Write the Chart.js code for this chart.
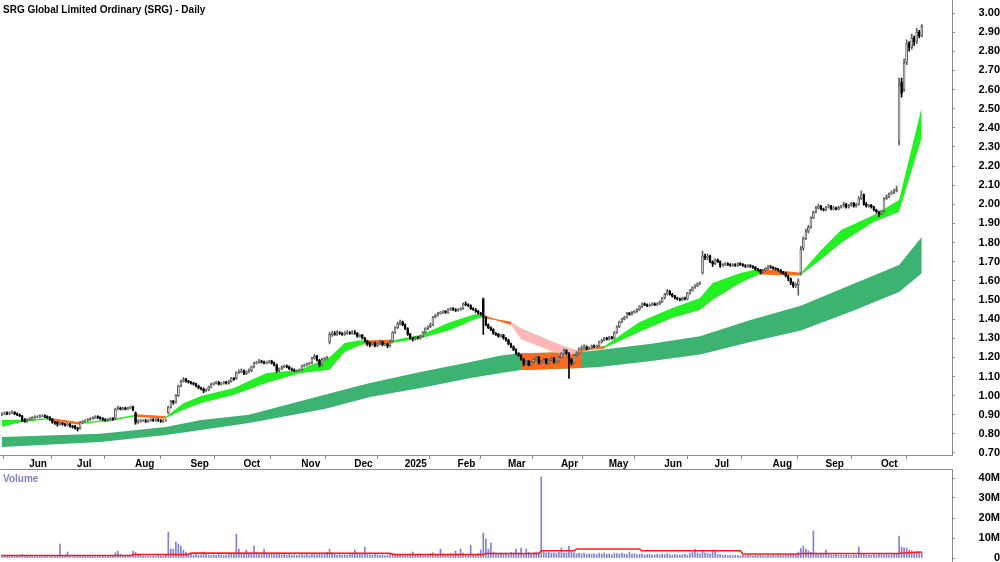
<!DOCTYPE html>
<html>
<head>
<meta charset="utf-8">
<script src="https://cdn.jsdelivr.net/npm/chart.js@4.4.1/dist/chart.umd.min.js"></script>
<style>
  html, body { margin: 0; padding: 0; background: #fff; }
  #wrap { position: relative; width: 1000px; height: 562px; overflow: hidden; font-family: "Liberation Sans", Arial, sans-serif; }
  #priceBox { position: absolute; left: 0; top: 0; width: 1000px; height: 470px; }
  #volBox { position: absolute; left: 0; top: 469px; width: 1000px; height: 93px; }
  #title { position: absolute; left: 3px; top: 4px; font-size: 10px; font-weight: bold; color: #000; white-space: nowrap; }
  #volLabel { position: absolute; left: 3px; top: 473px; font-size: 10px; font-weight: bold; color: #7f7fc6; }
</style>
</head>
<body>
<div id="wrap">
  <div id="priceBox"><canvas id="priceChart"></canvas></div>
  <div id="volBox"><canvas id="volChart"></canvas></div>
  <div id="title">SRG Global Limited Ordinary (SRG) - Daily</div>
  <div id="volLabel">Volume</div>
</div>
<script>
// trading calendar (ASX), first bar 20 May 2024
const firstDay = '2024-05-20';
const holidays = ['2024-06-10', '2024-12-25', '2024-12-26', '2025-01-01', '2025-01-27',
  '2025-04-18', '2025-04-21', '2025-04-25', '2025-06-09'];
const monthNames = ['Jan', 'Feb', 'Mar', 'Apr', 'May', 'Jun', 'Jul', 'Aug', 'Sep', 'Oct', 'Nov', 'Dec'];

// daily candles, one row = 10 trading days
const opens = [
  0.90, 0.905, 0.91, 0.905, 0.91, 0.915, 0.905, 0.90, 0.895, 0.875,
  0.865, 0.875, 0.88, 0.885, 0.89, 0.89, 0.895, 0.895, 0.89, 0.885,
  0.875, 0.86, 0.86, 0.85, 0.855, 0.85, 0.845, 0.85, 0.84, 0.84,
  0.83, 0.83, 0.86, 0.865, 0.87, 0.875, 0.88, 0.885, 0.89, 0.885,
  0.88, 0.875, 0.87, 0.875, 0.88, 0.88, 0.93, 0.935, 0.93, 0.935,
  0.93, 0.935, 0.94, 0.91, 0.86, 0.865, 0.87, 0.87, 0.865, 0.87,
  0.875, 0.87, 0.875, 0.87, 0.865, 0.87, 0.91, 0.94, 0.97, 0.965,
  1.00, 1.05, 1.075, 1.085, 1.075, 1.07, 1.065, 1.06, 1.05, 1.04,
  1.035, 1.025, 1.03, 1.045, 1.06, 1.065, 1.07, 1.06, 1.065, 1.07,
  1.065, 1.075, 1.09, 1.09, 1.12, 1.125, 1.13, 1.115, 1.125, 1.13,
  1.15, 1.17, 1.175, 1.18, 1.175, 1.17, 1.175, 1.18, 1.17, 1.16,
  1.13, 1.14, 1.15, 1.155, 1.15, 1.14, 1.135, 1.13, 1.13, 1.135,
  1.155, 1.16, 1.165, 1.17, 1.195, 1.205, 1.185, 1.16, 1.19, 1.195,
  1.28, 1.32, 1.325, 1.32, 1.33, 1.325, 1.32, 1.325, 1.33, 1.325,
  1.33, 1.325, 1.31, 1.315, 1.30, 1.285, 1.27, 1.265, 1.275, 1.26,
  1.27, 1.28, 1.265, 1.27, 1.26, 1.285, 1.33, 1.355, 1.375, 1.385,
  1.37, 1.35, 1.32, 1.30, 1.295, 1.305, 1.30, 1.31, 1.33, 1.35,
  1.36, 1.37, 1.41, 1.42, 1.43, 1.435, 1.44, 1.435, 1.45, 1.455,
  1.45, 1.445, 1.45, 1.455, 1.48, 1.475, 1.47, 1.455, 1.45, 1.44,
  1.43, 1.505, 1.41, 1.37, 1.355, 1.345, 1.325, 1.32, 1.31, 1.315,
  1.30, 1.29, 1.27, 1.255, 1.24, 1.22, 1.21, 1.19, 1.165, 1.18,
  1.16, 1.175, 1.19, 1.20, 1.17, 1.18, 1.19, 1.17, 1.185, 1.195,
  1.175, 1.18, 1.20, 1.22, 1.235, 1.22, 1.19, 1.17, 1.21, 1.22,
  1.245, 1.25, 1.255, 1.245, 1.25, 1.26, 1.255, 1.26, 1.28, 1.29,
  1.30, 1.295, 1.305, 1.30, 1.33, 1.36, 1.385, 1.40, 1.41, 1.43,
  1.425, 1.435, 1.44, 1.45, 1.465, 1.48, 1.475, 1.47, 1.475, 1.48,
  1.475, 1.48, 1.49, 1.51, 1.53, 1.545, 1.53, 1.52, 1.51, 1.505,
  1.50, 1.51, 1.505, 1.535, 1.55, 1.565, 1.575, 1.585, 1.64, 1.73,
  1.72, 1.73, 1.70, 1.69, 1.71, 1.70, 1.68, 1.685, 1.69, 1.685,
  1.68, 1.685, 1.68, 1.69, 1.685, 1.68, 1.675, 1.68, 1.675, 1.67,
  1.66, 1.655, 1.645, 1.655, 1.665, 1.675, 1.67, 1.665, 1.66, 1.655,
  1.645, 1.64, 1.625, 1.61, 1.59, 1.575, 1.58, 1.64, 1.77, 1.82,
  1.86, 1.88, 1.93, 1.96, 1.98, 1.99, 1.975, 1.97, 1.985, 1.99,
  1.975, 1.98, 1.975, 1.985, 1.99, 2.0, 1.985, 1.995, 2.005, 1.99,
  2.0, 2.03, 2.05, 2.0, 1.99, 1.995, 1.985, 1.97, 1.96, 1.95,
  1.965, 2.03, 2.04, 2.055, 2.06, 2.07, 2.33, 2.64, 2.60, 2.74,
  2.84, 2.82, 2.87, 2.85, 2.90, 2.88
];
const highs = [
  0.91, 0.915, 0.915, 0.915, 0.92, 0.915, 0.91, 0.905, 0.895, 0.88,
  0.88, 0.885, 0.89, 0.895, 0.895, 0.90, 0.90, 0.90, 0.895, 0.89,
  0.88, 0.865, 0.865, 0.86, 0.86, 0.855, 0.855, 0.855, 0.845, 0.845,
  0.835, 0.865, 0.87, 0.875, 0.88, 0.885, 0.89, 0.895, 0.895, 0.89,
  0.885, 0.88, 0.88, 0.885, 0.885, 0.935, 0.945, 0.94, 0.94, 0.94,
  0.94, 0.945, 0.945, 0.915, 0.875, 0.875, 0.875, 0.875, 0.875, 0.88,
  0.88, 0.88, 0.88, 0.875, 0.875, 0.875, 0.945, 0.975, 0.975, 1.005,
  1.055, 1.08, 1.095, 1.09, 1.08, 1.075, 1.07, 1.065, 1.055, 1.045,
  1.04, 1.035, 1.05, 1.065, 1.07, 1.075, 1.075, 1.07, 1.075, 1.075,
  1.08, 1.095, 1.095, 1.125, 1.135, 1.14, 1.135, 1.13, 1.14, 1.155,
  1.175, 1.18, 1.19, 1.185, 1.18, 1.18, 1.185, 1.185, 1.175, 1.165,
  1.145, 1.155, 1.16, 1.16, 1.155, 1.145, 1.14, 1.135, 1.14, 1.16,
  1.165, 1.17, 1.175, 1.20, 1.215, 1.21, 1.19, 1.195, 1.20, 1.205,
  1.33, 1.335, 1.335, 1.34, 1.335, 1.33, 1.335, 1.34, 1.335, 1.34,
  1.34, 1.33, 1.32, 1.32, 1.305, 1.29, 1.28, 1.28, 1.28, 1.275,
  1.29, 1.285, 1.275, 1.275, 1.29, 1.335, 1.36, 1.385, 1.395, 1.39,
  1.375, 1.355, 1.325, 1.305, 1.31, 1.31, 1.315, 1.335, 1.355, 1.365,
  1.38, 1.415, 1.425, 1.435, 1.44, 1.445, 1.445, 1.455, 1.46, 1.46,
  1.455, 1.455, 1.46, 1.485, 1.49, 1.48, 1.475, 1.46, 1.455, 1.445,
  1.435, 1.51, 1.415, 1.375, 1.36, 1.35, 1.33, 1.325, 1.32, 1.32,
  1.305, 1.295, 1.275, 1.26, 1.245, 1.225, 1.215, 1.195, 1.185, 1.185,
  1.18, 1.195, 1.205, 1.205, 1.185, 1.195, 1.195, 1.19, 1.20, 1.20,
  1.185, 1.205, 1.225, 1.245, 1.24, 1.225, 1.195, 1.215, 1.23, 1.25,
  1.26, 1.265, 1.26, 1.255, 1.265, 1.265, 1.265, 1.285, 1.295, 1.305,
  1.305, 1.31, 1.31, 1.335, 1.365, 1.39, 1.405, 1.415, 1.435, 1.435,
  1.44, 1.445, 1.455, 1.47, 1.485, 1.485, 1.48, 1.48, 1.485, 1.485,
  1.485, 1.495, 1.515, 1.535, 1.555, 1.55, 1.535, 1.525, 1.515, 1.51,
  1.515, 1.515, 1.54, 1.555, 1.57, 1.58, 1.59, 1.595, 1.755, 1.74,
  1.74, 1.735, 1.705, 1.715, 1.715, 1.705, 1.69, 1.695, 1.695, 1.69,
  1.69, 1.69, 1.695, 1.695, 1.69, 1.685, 1.685, 1.685, 1.68, 1.675,
  1.665, 1.66, 1.66, 1.67, 1.68, 1.68, 1.675, 1.67, 1.665, 1.66,
  1.65, 1.645, 1.63, 1.615, 1.595, 1.59, 1.61, 1.78, 1.83, 1.87,
  1.89, 1.935, 1.965, 1.99, 2.0, 1.995, 1.98, 1.99, 2.0, 1.995,
  1.99, 1.985, 1.99, 1.995, 2.01, 2.005, 2.0, 2.01, 2.01, 2.005,
  2.04, 2.07, 2.055, 2.01, 2.0, 2.0, 1.99, 1.975, 1.965, 1.97,
  2.035, 2.05, 2.06, 2.07, 2.08, 2.095, 2.66, 2.66, 2.76, 2.86,
  2.85, 2.89, 2.88, 2.92, 2.91, 2.94
];
const lows = [
  0.895, 0.90, 0.90, 0.90, 0.905, 0.90, 0.895, 0.89, 0.865, 0.86,
  0.86, 0.87, 0.875, 0.88, 0.885, 0.885, 0.89, 0.885, 0.88, 0.87,
  0.855, 0.85, 0.84, 0.845, 0.845, 0.84, 0.84, 0.835, 0.83, 0.825,
  0.815, 0.825, 0.855, 0.86, 0.865, 0.87, 0.875, 0.88, 0.88, 0.875,
  0.87, 0.865, 0.865, 0.87, 0.87, 0.875, 0.925, 0.925, 0.925, 0.925,
  0.925, 0.93, 0.92, 0.85, 0.855, 0.86, 0.865, 0.86, 0.86, 0.865,
  0.865, 0.865, 0.865, 0.86, 0.86, 0.865, 0.905, 0.935, 0.955, 0.96,
  0.995, 1.045, 1.07, 1.07, 1.065, 1.06, 1.055, 1.045, 1.035, 1.03,
  1.015, 1.02, 1.025, 1.04, 1.055, 1.06, 1.055, 1.055, 1.06, 1.06,
  1.06, 1.07, 1.08, 1.085, 1.115, 1.12, 1.11, 1.11, 1.12, 1.125,
  1.145, 1.165, 1.17, 1.17, 1.165, 1.165, 1.17, 1.165, 1.155, 1.12,
  1.125, 1.135, 1.145, 1.145, 1.135, 1.13, 1.125, 1.125, 1.125, 1.13,
  1.15, 1.155, 1.16, 1.165, 1.19, 1.18, 1.15, 1.155, 1.185, 1.19,
  1.27, 1.31, 1.315, 1.315, 1.32, 1.315, 1.315, 1.32, 1.32, 1.32,
  1.32, 1.305, 1.305, 1.295, 1.28, 1.26, 1.255, 1.26, 1.255, 1.255,
  1.265, 1.26, 1.26, 1.25, 1.255, 1.28, 1.325, 1.35, 1.37, 1.365,
  1.345, 1.315, 1.295, 1.285, 1.29, 1.295, 1.295, 1.305, 1.325, 1.345,
  1.355, 1.365, 1.405, 1.415, 1.425, 1.43, 1.43, 1.43, 1.445, 1.445,
  1.44, 1.44, 1.445, 1.45, 1.47, 1.465, 1.45, 1.445, 1.435, 1.425,
  1.42, 1.32, 1.365, 1.35, 1.34, 1.32, 1.315, 1.305, 1.305, 1.295,
  1.285, 1.265, 1.25, 1.235, 1.215, 1.205, 1.185, 1.155, 1.16, 1.155,
  1.155, 1.17, 1.185, 1.165, 1.165, 1.175, 1.165, 1.165, 1.18, 1.17,
  1.17, 1.175, 1.195, 1.215, 1.215, 1.09, 1.16, 1.165, 1.205, 1.215,
  1.24, 1.245, 1.24, 1.24, 1.245, 1.25, 1.25, 1.255, 1.275, 1.285,
  1.29, 1.29, 1.295, 1.295, 1.325, 1.355, 1.38, 1.395, 1.405, 1.42,
  1.42, 1.43, 1.435, 1.445, 1.46, 1.47, 1.465, 1.465, 1.47, 1.47,
  1.47, 1.475, 1.485, 1.505, 1.525, 1.525, 1.515, 1.505, 1.50, 1.495,
  1.495, 1.50, 1.50, 1.53, 1.545, 1.56, 1.57, 1.58, 1.635, 1.71,
  1.71, 1.695, 1.675, 1.685, 1.695, 1.67, 1.675, 1.68, 1.68, 1.675,
  1.675, 1.675, 1.675, 1.68, 1.675, 1.67, 1.67, 1.67, 1.665, 1.655,
  1.65, 1.635, 1.64, 1.65, 1.66, 1.665, 1.66, 1.655, 1.65, 1.64,
  1.635, 1.62, 1.60, 1.58, 1.565, 1.565, 1.525, 1.63, 1.76, 1.815,
  1.85, 1.875, 1.925, 1.955, 1.975, 1.97, 1.965, 1.965, 1.98, 1.97,
  1.97, 1.97, 1.97, 1.98, 1.985, 1.98, 1.98, 1.99, 1.985, 1.985,
  1.995, 2.025, 1.995, 1.985, 1.985, 1.98, 1.965, 1.955, 1.935, 1.945,
  1.96, 2.025, 2.035, 2.05, 2.055, 2.065, 2.31, 2.56, 2.59, 2.73,
  2.80, 2.81, 2.83, 2.84, 2.87, 2.875
];
const closes = [
  0.905, 0.91, 0.905, 0.91, 0.915, 0.905, 0.90, 0.895, 0.87, 0.865,
  0.875, 0.88, 0.885, 0.89, 0.89, 0.895, 0.895, 0.89, 0.885, 0.875,
  0.86, 0.855, 0.85, 0.855, 0.85, 0.845, 0.85, 0.84, 0.835, 0.83,
  0.825, 0.86, 0.865, 0.87, 0.875, 0.88, 0.885, 0.89, 0.885, 0.88,
  0.875, 0.87, 0.875, 0.88, 0.875, 0.93, 0.935, 0.93, 0.935, 0.93,
  0.935, 0.94, 0.925, 0.86, 0.865, 0.87, 0.87, 0.865, 0.87, 0.875,
  0.87, 0.875, 0.87, 0.865, 0.87, 0.87, 0.94, 0.97, 0.965, 1.00,
  1.05, 1.075, 1.085, 1.075, 1.07, 1.065, 1.06, 1.05, 1.04, 1.035,
  1.025, 1.03, 1.045, 1.06, 1.065, 1.07, 1.06, 1.065, 1.07, 1.065,
  1.075, 1.09, 1.085, 1.12, 1.125, 1.13, 1.115, 1.125, 1.13, 1.15,
  1.17, 1.175, 1.18, 1.175, 1.17, 1.175, 1.18, 1.17, 1.16, 1.13,
  1.14, 1.15, 1.155, 1.15, 1.14, 1.135, 1.13, 1.13, 1.135, 1.155,
  1.16, 1.165, 1.17, 1.195, 1.205, 1.185, 1.16, 1.19, 1.195, 1.20,
  1.32, 1.325, 1.32, 1.33, 1.325, 1.32, 1.325, 1.33, 1.325, 1.33,
  1.325, 1.31, 1.315, 1.30, 1.285, 1.27, 1.265, 1.275, 1.26, 1.27,
  1.28, 1.265, 1.27, 1.26, 1.28, 1.33, 1.355, 1.375, 1.385, 1.37,
  1.35, 1.32, 1.30, 1.295, 1.305, 1.30, 1.31, 1.33, 1.35, 1.36,
  1.37, 1.41, 1.42, 1.43, 1.435, 1.44, 1.435, 1.45, 1.455, 1.45,
  1.445, 1.45, 1.455, 1.48, 1.475, 1.47, 1.455, 1.45, 1.44, 1.43,
  1.425, 1.41, 1.37, 1.355, 1.345, 1.325, 1.32, 1.31, 1.315, 1.30,
  1.29, 1.27, 1.255, 1.24, 1.22, 1.21, 1.19, 1.165, 1.18, 1.16,
  1.175, 1.19, 1.20, 1.17, 1.18, 1.19, 1.17, 1.185, 1.195, 1.175,
  1.18, 1.20, 1.22, 1.235, 1.22, 1.19, 1.17, 1.21, 1.22, 1.245,
  1.25, 1.255, 1.245, 1.25, 1.26, 1.255, 1.26, 1.28, 1.29, 1.30,
  1.295, 1.305, 1.30, 1.33, 1.36, 1.385, 1.40, 1.41, 1.43, 1.425,
  1.435, 1.44, 1.45, 1.465, 1.48, 1.475, 1.47, 1.475, 1.48, 1.475,
  1.48, 1.49, 1.51, 1.53, 1.545, 1.53, 1.52, 1.51, 1.505, 1.50,
  1.51, 1.505, 1.535, 1.55, 1.565, 1.575, 1.585, 1.59, 1.73, 1.72,
  1.73, 1.70, 1.69, 1.71, 1.70, 1.68, 1.685, 1.69, 1.685, 1.68,
  1.685, 1.68, 1.69, 1.685, 1.68, 1.675, 1.68, 1.675, 1.67, 1.66,
  1.655, 1.645, 1.655, 1.665, 1.675, 1.67, 1.665, 1.66, 1.655, 1.645,
  1.64, 1.625, 1.61, 1.59, 1.575, 1.58, 1.60, 1.765, 1.82, 1.86,
  1.88, 1.93, 1.96, 1.98, 1.99, 1.975, 1.97, 1.985, 1.99, 1.975,
  1.98, 1.975, 1.985, 1.99, 2.0, 1.985, 1.995, 2.005, 1.99, 2.0,
  2.03, 2.05, 2.0, 1.99, 1.995, 1.985, 1.97, 1.96, 1.95, 1.965,
  2.03, 2.04, 2.055, 2.06, 2.07, 2.08, 2.62, 2.58, 2.74, 2.84,
  2.82, 2.87, 2.85, 2.90, 2.88, 2.93
];
// daily volume, millions of shares
const volumes = [
  1.5, 1.2, 0.9, 1.1, 0.8, 1.3, 1.0, 0.9, 1.6, 1.2,
  1.0, 0.8, 0.9, 1.1, 0.7, 0.9, 1.2, 0.8, 1.0, 1.3,
  1.1, 0.9, 1.0, 7.0, 1.2, 0.9, 3.0, 1.1, 0.8, 1.0,
  1.4, 1.1, 0.9, 1.0, 0.8, 1.2, 0.9, 0.7, 1.0, 0.9,
  1.1, 0.8, 1.0, 0.9, 1.2, 2.6, 3.5, 1.8, 1.2, 1.0,
  1.1, 1.3, 3.5, 2.8, 1.6, 1.2, 1.0, 0.9, 1.1, 0.8,
  1.0, 0.9, 1.2, 1.0, 0.8, 1.4, 13.0, 4.5, 4.5, 8.0,
  7.0, 6.0, 4.0, 3.0, 2.2, 1.8, 1.5, 2.0, 1.4, 1.6,
  3.0, 1.8, 1.5, 1.2, 1.6, 1.3, 1.8, 1.4, 1.2, 1.5,
  1.7, 2.2, 1.9, 12.0, 4.5, 2.4, 1.8, 4.0, 2.1, 2.5,
  6.0, 2.8, 2.0, 1.8, 4.5, 2.2, 1.9, 2.4, 1.7, 2.6,
  2.0, 1.6, 1.8, 1.5, 1.9, 1.4, 1.7, 1.3, 1.6, 2.0,
  1.5, 1.8, 1.4, 2.2, 1.9, 1.6, 2.4, 1.7, 2.0, 2.8,
  4.5, 2.6, 1.8, 1.5, 1.7, 1.3, 1.6, 1.4, 1.9, 2.2,
  4.0, 2.5, 1.8, 2.0, 5.5, 2.1, 1.6, 1.4, 1.8, 1.5,
  1.3, 1.6, 1.2, 1.5, 1.8, 2.4, 2.0, 1.7, 1.5, 1.9,
  1.4, 1.6, 2.0, 3.0, 1.7, 1.3, 1.5, 1.2, 1.6, 1.8,
  2.2, 2.6, 1.9, 1.7, 4.5, 2.0, 1.6, 1.8, 2.2, 1.9,
  3.5, 2.1, 4.5, 2.4, 1.8, 2.0, 6.5, 1.9, 1.6, 2.2,
  4.0, 12.5, 9.5, 4.5, 7.5, 3.0, 2.4, 2.0, 2.6, 2.2,
  2.4, 2.0, 2.8, 2.5, 4.5, 2.6, 5.0, 2.2, 4.5, 2.8,
  2.4, 2.7, 3.0, 2.6, 40.5, 3.2, 2.5, 2.8, 2.4, 2.6,
  2.2, 2.9, 5.0, 2.6, 2.4, 6.0, 3.0, 2.6, 2.2, 2.5,
  2.0, 2.3, 1.8, 2.1, 1.9, 2.2, 1.7, 2.4, 2.0, 2.6,
  1.8, 2.1, 1.6, 2.4, 2.2, 1.9, 2.5, 2.0, 1.7, 3.0,
  1.9, 2.2, 1.6, 1.8, 2.0, 1.5, 1.7, 1.9, 1.4, 1.6,
  1.8, 1.5, 2.0, 1.7, 2.2, 1.6, 1.4, 1.8, 1.5, 1.3,
  1.6, 1.9, 1.5, 2.2, 2.8, 4.5, 2.4, 2.0, 4.0, 2.6,
  2.2, 2.0, 4.0, 4.0, 1.8, 1.6, 1.4, 1.5, 1.2, 1.3,
  1.1, 1.4, 1.2, 1.0, 1.3, 1.1, 1.5, 1.2, 1.0, 1.3,
  1.2, 1.4, 1.1, 1.0, 1.3, 1.2, 1.4, 1.1, 1.5, 1.3,
  1.2, 1.6, 1.4, 1.8, 2.0, 1.7, 3.0, 4.8, 6.0, 4.5,
  3.6, 2.8, 13.5, 2.4, 2.0, 1.8, 2.2, 4.0, 1.9, 1.6,
  1.5, 1.8, 1.4, 1.6, 1.3, 1.7, 1.5, 1.2, 1.6, 1.4,
  5.5, 2.2, 1.8, 1.5, 1.6, 1.4, 1.8, 1.5, 2.0, 1.7,
  1.6, 1.9, 1.5, 1.8, 2.2, 2.4, 11.0, 5.5, 5.0, 5.0,
  4.0, 3.6, 3.0, 3.2, 3.0, 3.0
];

// short-term ribbon (fast / slow edge), read at these bar numbers
const shortIdx = [0, 7, 17, 19, 31, 43, 53, 65, 72, 79, 92, 105, 118, 130, 136, 142, 144, 155, 166, 178,
  188, 191, 202, 206, 219, 225, 229, 239, 253, 266, 277, 282, 293, 300, 301, 317, 325, 333, 346, 356, 365];
const shortFast = [0.872, 0.872, 0.882, 0.880, 0.858, 0.877, 0.900, 0.890, 0.960, 0.998, 1.040, 1.118, 1.134,
  1.200, 1.275, 1.290, 1.285, 1.290, 1.317, 1.385, 1.427, 1.418, 1.372, 1.295, 1.228, 1.210, 1.228, 1.258,
  1.385, 1.458, 1.510, 1.588, 1.641, 1.662, 1.660, 1.640, 1.760, 1.866, 1.944, 2.022, 2.509];
const shortSlow = [0.836, 0.860, 0.874, 0.872, 0.850, 0.867, 0.891, 0.882, 0.925, 0.960, 1.003, 1.066, 1.115,
  1.134, 1.228, 1.262, 1.268, 1.275, 1.298, 1.343, 1.400, 1.408, 1.384, 1.352, 1.280, 1.250, 1.238, 1.248,
  1.333, 1.406, 1.447, 1.500, 1.588, 1.630, 1.636, 1.630, 1.710, 1.798, 1.907, 1.960, 2.346];
const shortTurns = [[19, 31], [53, 65], [144, 155], [191, 202], [229, 239], [301, 317]];

// long-term ribbon
const longIdx = [0, 39, 65, 79, 98, 128, 146, 166, 186, 198, 206, 230, 237, 257, 277, 297, 317, 337, 356, 365];
const longTop = [0.784, 0.800, 0.836, 0.873, 0.900, 1.005, 1.066, 1.123, 1.176, 1.210, 1.222, 1.228, 1.238,
  1.270, 1.310, 1.395, 1.470, 1.580, 1.683, 1.829];
const longBot = [0.731, 0.757, 0.794, 0.820, 0.857, 0.930, 0.993, 1.040, 1.092, 1.118, 1.134, 1.144, 1.149,
  1.180, 1.215, 1.280, 1.340, 1.440, 1.542, 1.640];
const longTurns = [[206, 230]];

// volume average line
const volAvgIdx = [0, 51, 52, 74, 75, 154, 155, 191, 192, 213, 214, 227, 228, 253, 254, 293, 294, 316, 317, 355, 365];
const volAvg = [1.2, 1.2, 1.7, 1.7, 2.5, 2.4, 1.8, 1.8, 2.3, 2.3, 3.6, 3.6, 4.5, 4.5, 3.6, 3.6, 2.0, 2.0, 2.3, 2.3, 3.0];

const priceTicks = [0.7, 0.8, 0.9, 1.0, 1.1, 1.2, 1.3, 1.4, 1.5, 1.6, 1.7, 1.8, 1.9, 2.0, 2.1, 2.2,
  2.3, 2.4, 2.5, 2.6, 2.7, 2.8, 2.9, 3.0];
const volTicks = [0, 10, 20, 30, 40];

const FONT = '"Liberation Sans", Arial, sans-serif';
const AXIS = '#8a8a8a';
const GREEN = '#22f022';
const PINK = '#ffb8b8';
const ORANGE = '#ff6a1a';
const SEA = '#3cb371';
const UPC = '#5e5e5e';
const VOLC = '#8282d2';
const X_MIN = -0.79;
const X_MAX = 377;

// trading days -> month start bars
const days = [];
{
  const d = new Date(firstDay + 'T00:00:00Z');
  while (days.length < closes.length) {
    const iso = d.toISOString().slice(0, 10);
    const dow = d.getUTCDay();
    if (dow !== 0 && dow !== 6 && !holidays.includes(iso)) days.push(iso);
    d.setUTCDate(d.getUTCDate() + 1);
  }
}
const monthStarts = [];
const monthLabel = {};
days.forEach((iso, i) => {
  if (i > 0 && iso.slice(5, 7) !== days[i - 1].slice(5, 7)) {
    const m = +iso.slice(5, 7) - 1;
    monthStarts.push(i);
    monthLabel[i] = m === 0 ? iso.slice(0, 4) : monthNames[m];
  }
});

function pts(idx, vals, from = -Infinity, to = Infinity) {
  return idx.map((x, k) => ({ x, y: vals[k] })).filter(p => p.x >= from && p.x <= to);
}
function edge(data, fill, color) {
  return {
    type: 'line', data, fill, pointRadius: 0, tension: 0,
    borderColor: color || 'rgba(0,0,0,0)', borderWidth: color ? 1 : 0
  };
}
// keep the y axes from reserving room above/below the plot
function fitRight(s) {
  s.width = 48;
  s.paddingTop = 0;
  s.paddingBottom = 0;
}

const isUp = closes.map((c, i) => c >= opens[i]);

const priceSets = [
  {
    type: 'bar', grouped: false, barThickness: 2, borderSkipped: false,
    data: closes.map((c, i) => ({ x: i, y: [opens[i], c] })),
    backgroundColor: isUp.map(u => u ? '#ffffff' : '#000000'),
    borderColor: isUp.map(u => u ? UPC : '#000000'),
    borderWidth: 1
  },
  {
    type: 'bar', grouped: false, barThickness: 1, borderSkipped: false,
    data: closes.map((c, i) => ({ x: i, y: [lows[i], highs[i]] })),
    backgroundColor: isUp.map(u => u ? UPC : '#000000'),
    borderWidth: 0
  }
];
shortTurns.forEach(([a, b]) => {
  const n = priceSets.length;
  priceSets.push(edge(pts(shortIdx, shortFast, a, b), { target: n + 1, above: ORANGE, below: ORANGE }, ORANGE));
  priceSets.push(edge(pts(shortIdx, shortSlow, a, b), false, ORANGE));
});
{
  const n = priceSets.length;
  priceSets.push(edge(pts(shortIdx, shortFast), { target: n + 1, above: GREEN, below: PINK }));
  priceSets.push(edge(pts(shortIdx, shortSlow), false));
}
longTurns.forEach(([a, b]) => {
  const n = priceSets.length;
  priceSets.push(edge(pts(longIdx, longTop, a, b), { target: n + 1, above: ORANGE, below: ORANGE }));
  priceSets.push(edge(pts(longIdx, longBot, a, b), false));
});
{
  const n = priceSets.length;
  priceSets.push(edge(pts(longIdx, longTop), { target: n + 1, above: SEA, below: SEA }));
  priceSets.push(edge(pts(longIdx, longBot), false));
}

const tickFont = { family: FONT, size: 11, weight: 'bold' };

new Chart(document.getElementById('priceChart'), {
  type: 'line',
  data: { datasets: priceSets },
  options: {
    responsive: true, maintainAspectRatio: false, animation: false, events: [],
    layout: { padding: 0, autoPadding: false },
    plugins: { legend: { display: false }, tooltip: { enabled: false }, filler: { propagate: false } },
    scales: {
      x: {
        type: 'linear', min: X_MIN, max: X_MAX, offset: false,
        grid: { drawOnChartArea: false, drawTicks: true, tickLength: 4, color: AXIS },
        border: { display: true, color: AXIS },
        ticks: {
          font: { family: FONT, size: 10, weight: 'bold' }, color: '#000',
          align: 'start', labelOffset: 2, padding: -1, autoSkip: false, maxRotation: 0,
          callback: v => monthLabel[v] || ''
        },
        afterBuildTicks: s => { s.ticks = monthStarts.map(v => ({ value: v })); },
        afterFit: s => { s.height = 15; s.paddingLeft = 0; s.paddingRight = 0; }
      },
      y: {
        type: 'linear', position: 'right', min: 0.6895, max: 3.068,
        grid: { drawOnChartArea: false, tickLength: 3, color: AXIS },
        border: { display: true, color: AXIS },
        ticks: {
          font: tickFont, color: '#000', crossAlign: 'far', padding: 20, autoSkip: false,
          callback: v => Number(v).toFixed(2)
        },
        afterBuildTicks: s => { s.ticks = priceTicks.map(v => ({ value: v })); },
        afterFit: fitRight
      }
    }
  }
});

new Chart(document.getElementById('volChart'), {
  type: 'bar',
  data: {
    datasets: [
      {
        type: 'line', data: pts(volAvgIdx, volAvg), borderColor: '#ff1a1a', borderWidth: 1.5,
        pointRadius: 0, tension: 0, fill: false
      },
      {
        type: 'bar', data: volumes.map((v, i) => ({ x: i, y: v })),
        backgroundColor: VOLC, barThickness: 1, grouped: false
      }
    ]
  },
  options: {
    responsive: true, maintainAspectRatio: false, animation: false, events: [],
    layout: { padding: 0, autoPadding: false },
    plugins: { legend: { display: false }, tooltip: { enabled: false } },
    scales: {
      x: { type: 'linear', min: X_MIN, max: X_MAX, offset: false, display: false },
      x2: {
        type: 'linear', position: 'top', min: X_MIN, max: X_MAX, offset: false,
        grid: { drawOnChartArea: false, drawTicks: false },
        border: { display: true, color: AXIS },
        ticks: { display: false },
        afterFit: s => { s.height = 0; s.paddingLeft = 0; s.paddingRight = 0; }
      },
      y: {
        type: 'linear', position: 'right', min: -2, max: 44.5,
        grid: { drawOnChartArea: false, tickLength: 3, color: AXIS },
        border: { display: true, color: AXIS },
        ticks: {
          font: tickFont, color: '#000', crossAlign: 'far', padding: 20, autoSkip: false,
          callback: v => v === 0 ? '0' : v + 'M'
        },
        afterBuildTicks: s => { s.ticks = volTicks.map(v => ({ value: v })); },
        afterFit: fitRight
      }
    }
  }
});
</script>
</body>
</html>
